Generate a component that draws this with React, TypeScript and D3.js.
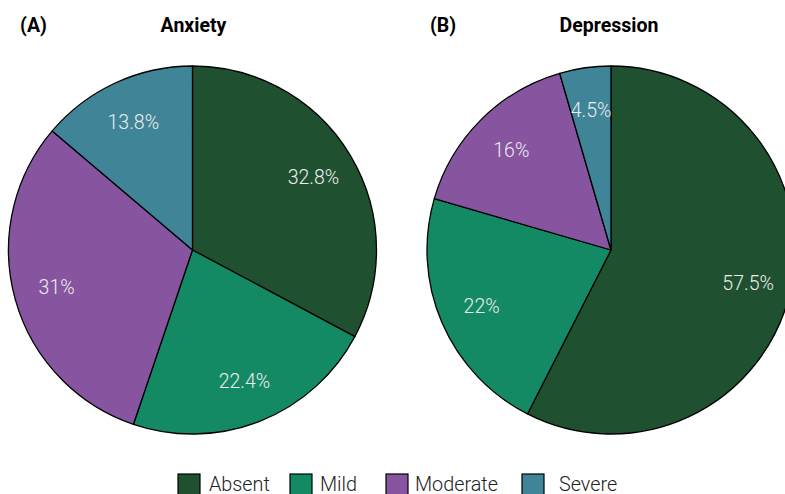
import React from "react";
import * as d3 from "d3";

const categories = ["Absent", "Mild", "Moderate", "Severe"];
const anxietyValues = [32.8, 22.4, 31, 13.8];
const depressionValues = [57.5, 22, 16, 4.5];
const colors = ["#1f5130", "#138a64", "#8755a0", "#3f8497"];
const panels = [
  { tag: "(A)", title: "Anxiety", values: anxietyValues },
  { tag: "(B)", title: "Depression", values: depressionValues },
];

const W = 785, H = 494;
const R = 184;
const centers = [192.5, 611];
const cy = 250;
const font = "Roboto, 'Noto Sans', sans-serif";

export default function App() {
  const pie = d3.pie<number>().sort(null).value((d) => d);
  const arc = d3.arc<d3.PieArcDatum<number>>().innerRadius(0).outerRadius(R);
  const labelR = 141;
  const labelArc = d3.arc<d3.PieArcDatum<number>>().innerRadius(labelR * 2 - R).outerRadius(R);

  const legendX = [178, 290, 386, 522];
  const legendTextX = [209, 320, 415, 559];

  return (
    <div style={{ position: "fixed", left: 0, top: 0, width: W, height: H, overflow: "hidden" }}>
      <svg width={W} height={H} style={{ display: "block", fontFamily: font }}>
        <rect width={W} height={H} fill="#fff" />
        {panels.map((p, pi) => {
          const cx = centers[pi];
          const arcs = pie(p.values);
          return (
            <g key={p.title}>
              <text x={pi === 0 ? 33.5 : 443} y={32} textAnchor="middle" fontSize={19.5} fontWeight="bold" fill="#000">
                {p.tag}
              </text>
              <text x={pi === 0 ? 193.5 : 609} y={32} textAnchor="middle" fontSize={19.5} fontWeight="bold" fill="#000">
                {p.title}
              </text>
              <g transform={`translate(${cx},${cy})`}>
                {arcs.map((a, i) => (
                  <path key={i} d={arc(a) || ""} fill={colors[i]} stroke="#000" strokeWidth={1.3} strokeLinejoin="round" />
                ))}
                {arcs.map((a, i) => {
                  const [lx, ly] = labelArc.centroid(a);
                  return (
                    <text key={"l" + i} x={lx} y={ly} dy="0.35em" textAnchor="middle" fontSize={19.5} fontWeight={300} fill="#ececec">
                      {a.data}%
                    </text>
                  );
                })}
              </g>
            </g>
          );
        })}
        {categories.map((c, i) => (
          <g key={c}>
            <rect x={legendX[i]} y={474} width={22} height={22} fill={colors[i]} stroke="#000" strokeWidth={1.2} />
            <text x={legendTextX[i]} y={491} fontSize={19.8} fontWeight={300} fill="#222">
              {c}
            </text>
          </g>
        ))}
      </svg>
    </div>
  );
}
